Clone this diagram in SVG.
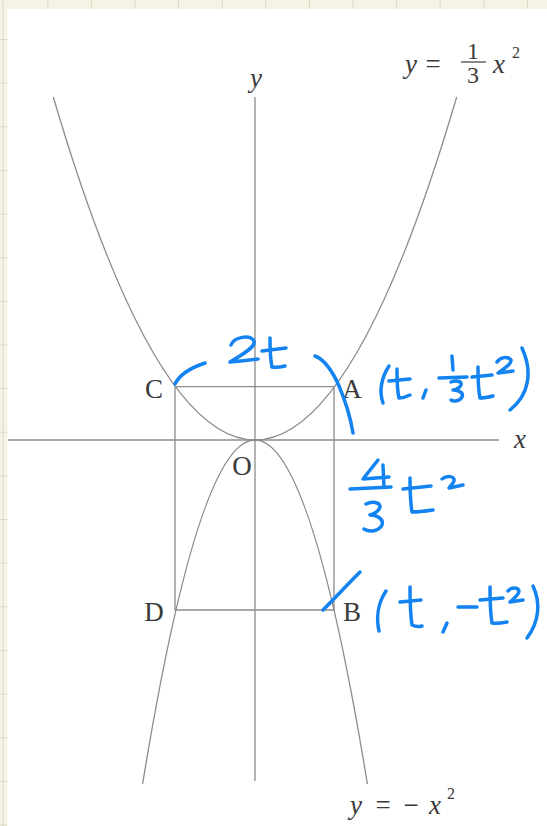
<svg xmlns="http://www.w3.org/2000/svg" width="547" height="826" viewBox="0 0 547 826">
<style>
.grid{stroke:#ddd8c6;stroke-width:1}
.ln{fill:none;stroke:#8c8c8c;stroke-width:1.3}
.lb{font-family:"Liberation Serif","DejaVu Serif",serif;font-size:27px;fill:#3a3a3a}
.it{font-style:italic}
.hw{fill:none;stroke:#1283f0;stroke-width:3.5;stroke-linecap:round;stroke-linejoin:round}
</style>
<g id="paper">
<rect x="0" y="0" width="547" height="826" fill="#f6f3e4"/>
<line class="grid" x1="3" y1="0" x2="3" y2="826"/>
<g class="grid">
<line x1="47.8" y1="0" x2="47.8" y2="9"/><line x1="91.4" y1="0" x2="91.4" y2="9"/><line x1="135" y1="0" x2="135" y2="9"/><line x1="178.6" y1="0" x2="178.6" y2="9"/><line x1="222.2" y1="0" x2="222.2" y2="9"/><line x1="265.8" y1="0" x2="265.8" y2="9"/><line x1="309.4" y1="0" x2="309.4" y2="9"/><line x1="353" y1="0" x2="353" y2="9"/><line x1="396.6" y1="0" x2="396.6" y2="9"/><line x1="440.2" y1="0" x2="440.2" y2="9"/><line x1="483.8" y1="0" x2="483.8" y2="9"/><line x1="527.4" y1="0" x2="527.4" y2="9"/>
<line x1="0" y1="39.5" x2="7" y2="39.5"/><line x1="0" y1="83.1" x2="7" y2="83.1"/><line x1="0" y1="126.8" x2="7" y2="126.8"/><line x1="0" y1="170.4" x2="7" y2="170.4"/><line x1="0" y1="214.1" x2="7" y2="214.1"/><line x1="0" y1="257.7" x2="7" y2="257.7"/><line x1="0" y1="301.3" x2="7" y2="301.3"/><line x1="0" y1="345" x2="7" y2="345"/><line x1="0" y1="388.6" x2="7" y2="388.6"/><line x1="0" y1="432.3" x2="7" y2="432.3"/><line x1="0" y1="475.9" x2="7" y2="475.9"/><line x1="0" y1="519.5" x2="7" y2="519.5"/><line x1="0" y1="563.2" x2="7" y2="563.2"/><line x1="0" y1="606.8" x2="7" y2="606.8"/><line x1="0" y1="650.5" x2="7" y2="650.5"/><line x1="0" y1="694.1" x2="7" y2="694.1"/><line x1="0" y1="737.7" x2="7" y2="737.7"/><line x1="0" y1="781.4" x2="7" y2="781.4"/><line x1="0" y1="825" x2="7" y2="825"/>
</g>
<rect x="7.5" y="9" width="540" height="817" fill="#ffffff"/>
</g>
<g id="axes">
<line class="ln" x1="8" y1="440" x2="499" y2="440"/>
<line class="ln" x1="255" y1="97" x2="255" y2="781"/>
</g>
<g id="curves">
<path id="upper-parabola" class="ln" d="M53.3 97 Q255 783 456.7 97"/>
<path id="lower-parabola" class="ln" d="M142.6 784 Q255 96 367.4 784"/>
</g>
<g id="rectangle">
<path class="ln" d="M175 386.7 L334 386.7 L334 610 L175 610 Z"/>
</g>
<g id="labels" class="lb">
<text class="it" x="256" y="87" text-anchor="middle">y</text>
<text class="it" x="520" y="448" text-anchor="middle">x</text>
<text x="154" y="398" text-anchor="middle">C</text>
<text x="352" y="398" text-anchor="middle">A</text>
<text x="242" y="475" text-anchor="middle">O</text>
<text x="154" y="621" text-anchor="middle">D</text>
<text x="352" y="621" text-anchor="middle">B</text>
<g id="eq-upper">
<text class="it" x="411" y="73" text-anchor="middle">y</text>
<text x="433" y="73" text-anchor="middle">=</text>
<text x="473" y="59" text-anchor="middle" font-size="24">1</text>
<line x1="461" y1="62" x2="486" y2="62" stroke="#3a3a3a" stroke-width="1.2"/>
<text x="473" y="83" text-anchor="middle" font-size="24">3</text>
<text class="it" x="499" y="73" text-anchor="middle">x</text>
<text x="516" y="58" text-anchor="middle" font-size="16">2</text>
</g>
<g id="eq-lower">
<text class="it" x="356" y="814" text-anchor="middle">y</text>
<text x="383" y="814" text-anchor="middle">=</text>
<text x="411" y="814" text-anchor="middle">−</text>
<text class="it" x="435" y="814" text-anchor="middle">x</text>
<text x="451" y="799" text-anchor="middle" font-size="16">2</text>
</g>
</g>
<g id="handwriting" class="hw">
<path d="M175 384 C179 376, 190 368, 205 363"/>
<path d="M231 345 C234 337, 250 334, 254 341 C256 347, 242 355, 230 362 C240 361, 250 360, 258 359"/>
<path d="M270 338 C270 348, 270 358, 272 367 C277 368, 281 367, 285 366"/>
<path d="M262 351 L286 348"/>
<path d="M315 356 C324 359, 333 372, 339 386 C345 400, 350 415, 353 433"/>
<path d="M389 366 C381 378, 379 392, 383 403"/>
<path d="M397 369 C397 380, 397 390, 399 398 C403 398, 406 397, 410 395"/>
<path d="M389 381 L410 379"/>
<path d="M426 390 L423 398"/>
<path d="M452 356 L453 370"/>
<path d="M439 378 L467 377"/>
<path d="M451 382 C456 380, 462 381, 461 385 C460 388, 455 390, 453 390 C459 390, 464 393, 462 397 C460 401, 454 402, 451 400"/>
<path d="M478 367 C478 378, 478 389, 480 398 C485 398, 489 397, 493 396"/>
<path d="M472 377 L492 375"/>
<path d="M497 362 C500 357, 508 356, 511 360 C512 364, 503 369, 498 373 L513 371"/>
<path d="M522 348 C533 372, 529 395, 510 410"/>
<path d="M378 460 L363 479 L389 477"/>
<path d="M383 465 L384 487"/>
<path d="M350 489 L391 487"/>
<path d="M366 504 C372 501, 380 502, 380 507 C379 511, 373 514, 370 515 C377 515, 384 519, 382 525 C379 531, 370 533, 364 529"/>
<path d="M410 478 C410 490, 410 500, 412 512 C418 512, 426 511, 433 510"/>
<path d="M403 489 L431 486"/>
<path d="M442 479 C447 475, 455 476, 454 481 C453 484, 450 486, 449 488 L463 485"/>
<path d="M323 610 C335 598, 348 584, 360 572"/>
<path d="M386 591 C378 603, 376 618, 379 631"/>
<path d="M410 587 C410 600, 410 612, 412 625 C416 627, 419 627, 422 626"/>
<path d="M400 602 L421 600"/>
<path d="M447 623 L443 632"/>
<path d="M458 607 L477 607"/>
<path d="M490 587 C490 599, 490 611, 492 623 C497 624, 502 623, 507 622"/>
<path d="M480 600 L503 598"/>
<path d="M508 591 C511 587, 518 587, 519 591 C519 595, 513 599, 510 602 L523 600"/>
<path d="M533 586 C541 603, 539 622, 527 638"/>
</g>
</svg>
